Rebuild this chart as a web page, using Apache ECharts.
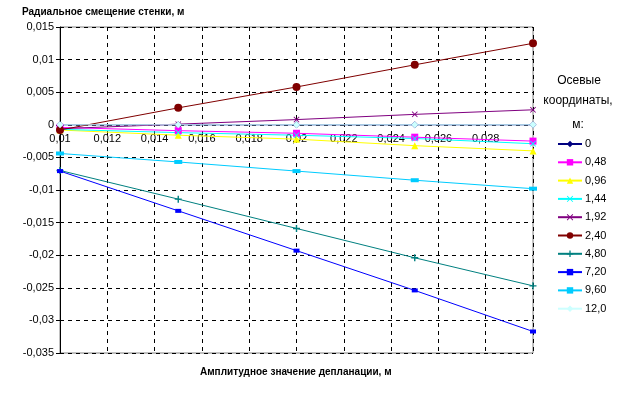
<!DOCTYPE html>
<html><head><meta charset="utf-8">
<script src="https://cdn.jsdelivr.net/npm/echarts@6/dist/echarts.min.js"></script>
<style>html,body{margin:0;padding:0;background:#fff}#c{width:623px;height:400px}</style>
</head><body><div id="c"></div>
<script>
const xValues = [0.01, 0.015, 0.02, 0.025, 0.03];
const seriesNames = ['0', '0,48', '0,96', '1,44', '1,92', '2,40', '4,80', '7,20', '9,60', '12,0'];
const s0   = [0, 0, 0, 0, 0];
const s048 = [-0.0004, -0.0009, -0.0013, -0.0019, -0.0025];
const s096 = [-0.0008, -0.0016, -0.0022, -0.0032, -0.0040];
const s144 = [-0.0007, -0.0012, -0.0016, -0.0021, -0.0029];
const s192 = [-0.0006, 0.0001, 0.0008, 0.0016, 0.0023];
const s240 = [-0.0008, 0.0026, 0.0058, 0.0092, 0.0125];
const s480 = [-0.0070, -0.0114, -0.0159, -0.0204, -0.0247];
const s720 = [-0.0071, -0.0132, -0.0193, -0.0254, -0.0317];
const s960 = [-0.0044, -0.0057, -0.0071, -0.0085, -0.0098];
const s120 = [0, 0, 0, 0, 0];
const allValues = [s0, s048, s096, s144, s192, s240, s480, s720, s960, s120];

const colors = ['#000080', '#FF00FF', '#FFFF00', '#00FFFF', '#800080', '#800000', '#008080', '#0000FF', '#00CCFF', '#CCFFFF'];
const xShape = 'path://M0,1L1,0L5,4L9,0L10,1L6,5L10,9L9,10L5,6L1,10L0,9L4,5Z';
const starShape = 'path://M4,0L6,0L6,4L10,4L10,6L6,6L6,10L4,10L4,6L0,6L0,4L4,4Z';
const symbols = ['diamond', 'rect', 'triangle', xShape, xShape, 'circle', starShape, 'rect', 'rect', 'diamond'];
const sizes = [7, 7, 7, 6, 6, 8, 7, [6, 4], [8, 4], 7];

function fmt(v) {
  const r = Math.round(v * 1000000) / 1000000;
  if (r === 0) return '0';
  return String(r).replace('.', ',');
}

const FONT = '"Liberation Sans", Arial, sans-serif';
const GRID_TOP = 27, GRID_BOTTOM = 47, H = 400;
const Y_MIN = -0.035, Y_MAX = 0.015;
const gridH = H - GRID_TOP - GRID_BOTTOM;
const zeroOffset = -(gridH * (0 - Y_MIN) / (Y_MAX - Y_MIN));

const chart = echarts.init(document.getElementById('c'), null, {renderer: 'canvas'});
chart.setOption({
  animation: false,
  backgroundColor: '#fff',
  textStyle: {fontFamily: FONT},
  grid: {left: 60, right: 90, top: GRID_TOP, bottom: GRID_BOTTOM, show: true, borderColor: '#808080', borderWidth: 1},
  xAxis: {
    type: 'value', min: 0.01, max: 0.03, interval: 0.002,
    offset: zeroOffset,
    axisLine: {show: false, onZero: false},
    axisTick: {show: false},
    axisLabel: {color: '#000', fontSize: 11, fontFamily: FONT, margin: 9, showMaxLabel: false, formatter: fmt},
    splitLine: {show: true, lineStyle: {color: '#000', type: [4, 4], width: 1}}
  },
  yAxis: {
    type: 'value', min: Y_MIN, max: Y_MAX, interval: 0.005,
    axisLine: {show: true, onZero: false, lineStyle: {color: '#000', width: 1}},
    axisTick: {show: true, length: 4, lineStyle: {color: '#000'}},
    axisLabel: {color: '#000', fontSize: 11, fontFamily: FONT, margin: 6, formatter: fmt},
    splitLine: {show: true, lineStyle: {color: '#000', type: [4, 4], width: 1}}
  },
  legend: {
    orient: 'vertical', left: 557, top: 138, padding: 0, itemWidth: 24, itemHeight: 8, itemGap: 6.3,
    textStyle: {color: '#000', fontSize: 11, fontFamily: FONT, lineHeight: 12, padding: [0, 0, 0, -2]},
    data: seriesNames
  },
  graphic: [
    {type: 'text', left: 22, top: 7, style: {text: 'Радиальное смещение стенки, м', font: 'bold 10px ' + FONT, fill: '#000'}},
    {type: 'text', left: 200, top: 367, style: {text: 'Амплитудное значение депланации, м', font: 'bold 10px ' + FONT, fill: '#000'}},
    {type: 'text', x: 579, y: 75, style: {text: 'Осевые', font: '12px ' + FONT, fill: '#000', textAlign: 'center'}},
    {type: 'text', x: 578, y: 95, style: {text: 'координаты,', font: '12px ' + FONT, fill: '#000', textAlign: 'center'}},
    {type: 'text', x: 578, y: 119, style: {text: 'м:', font: '12px ' + FONT, fill: '#000', textAlign: 'center'}}
  ],
  series: seriesNames.map((n, i) => ({
    name: n, type: 'line',
    data: xValues.map((x, j) => [x, allValues[i][j]]),
    color: colors[i],
    symbol: symbols[i], symbolSize: sizes[i], showAllSymbol: true,
    lineStyle: {width: 1, color: colors[i]},
    itemStyle: {color: colors[i]},
    emphasis: {disabled: true}
  }))
});
</script></body></html>
